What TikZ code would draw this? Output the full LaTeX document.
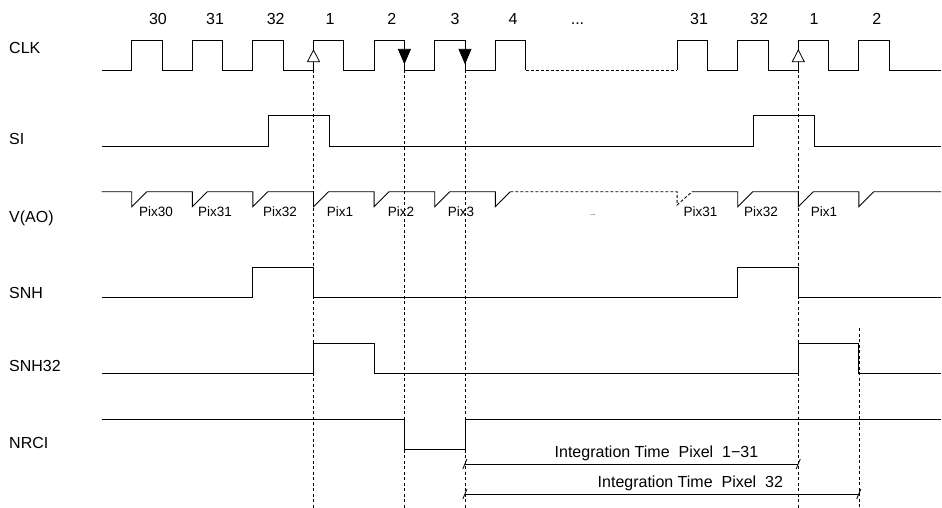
\documentclass[tikz,border=0pt]{standalone}
\usepackage{fontspec}
\setmainfont{Liberation Sans}
\begin{document}
\begin{tikzpicture}[x=1pt,y=-1pt,
  sig/.style={line width=0.9pt, line join=miter},
  dsig/.style={line width=0.9pt, dash pattern=on 3pt off 2pt},
  guide/.style={line width=0.8pt, dash pattern=on 3pt off 2.5pt},
  dim/.style={line width=0.9pt},
  lbl/.style={font=\fontsize{16}{19}\selectfont, inner sep=0pt, anchor=base west},
  num/.style={font=\fontsize{16}{19}\selectfont, inner sep=0pt, anchor=base},
  pix/.style={font=\fontsize{13.5}{16}\selectfont, inner sep=0pt, anchor=base},
  tinydots/.style={font=\fontsize{7}{8}\selectfont, inner sep=0pt, anchor=base},
  opentri/.style={draw, fill=white, line width=0.8pt},
  filltri/.style={draw, fill=black, line width=0.8pt}]
\useasboundingbox (0,0) rectangle (942,508);

% signal names
\node[lbl] (lclk) at (9,54) {CLK};
\node[lbl] (lsi) at (9,145) {SI};
\node[lbl] (lvao) at (9,222.5) {V(AO)};
\node[lbl] (lsnh) at (9,298.3) {SNH};
\node[lbl] (lsnh32) at (9,371.7) {SNH32};
\node[lbl] (lnrci) at (9,448.3) {NRCI};

% clock numbers
\node[num] (n30) at (158,25) {30};
\node[num] (n31) at (215,25) {31};
\node[num] (n32) at (275.7,25) {32};
\node[num] (n1) at (330,25) {1};
\node[num] (n2) at (391.7,25) {2};
\node[num] (n3) at (455,25) {3};
\node[num] (n4) at (513,25) {4};
\node[num] (ndots) at (577.5,25) {...};
\node[num] (m31) at (699,25) {31};
\node[num] (m32) at (759,25) {32};
\node[num] (m1) at (814,25) {1};
\node[num] (m2) at (876.7,25) {2};

% guide coordinates
\coordinate (gA) at (313.5,70);  \coordinate (gAb) at (313.5,508);
\coordinate (gB) at (404.4,70);  \coordinate (gBb) at (404.4,508);
\coordinate (gC) at (465.0,70);  \coordinate (gCb) at (465.0,508);
\coordinate (gD) at (798.3,70);  \coordinate (gDb) at (798.3,508);
\coordinate (gE) at (858.9,328); \coordinate (gEb) at (858.9,508);

\draw[guide] (gA) -- (gAb);
\draw[guide] (gB) -- (gBb);
\draw[guide] (gC) -- (gCb);
\draw[guide] (gD) -- (gDb);
\draw[guide] (gE) -- (gEb);

% CLK
\draw[sig] (101.7,70) foreach \r in {131.7,192.3,252.9,313.5,374.1,434.7,495.3}{ -- (\r,70) -- (\r,40) -- ({\r+30.3},40) -- ({\r+30.3},70) };
\draw[dsig] (525.6,70) -- (677.1,70);
\draw[sig] (677.1,70) foreach \r in {677.1,737.7,798.3,858.9}{ -- (\r,70) -- (\r,40) -- ({\r+30.3},40) -- ({\r+30.3},70) } -- (941,70);

% edge markers
\draw[opentri] (313.5,50) -- (307.5,61.7) -- (319.5,61.7) -- cycle;
\draw[opentri] (798.3,50) -- (792.3,61.7) -- (804.3,61.7) -- cycle;
\draw[filltri] (398.4,49.3) -- (410.4,49.3) -- (404.4,63.3) -- cycle;
\draw[filltri] (459.0,49.3) -- (471.0,49.3) -- (465.0,63.3) -- cycle;

% SI
\draw[sig] (101.7,146) -- (268.3,146) -- (268.3,115.7) -- (329,115.7) -- (329,146) -- (753.3,146) -- (753.3,115.7) -- (814,115.7) -- (814,146) -- (941,146);

% V(AO)
\draw[sig] (101.7,191.7) foreach \r in {131.7,192.3,252.9,313.5,374.1,434.7,495.3}{ -- (\r,191.7) -- (\r,206.7) -- ({\r+15},191.7) };
\draw[dsig] (510.3,191.7) -- (677.1,191.7) -- (677.1,205) -- (692.1,191.7);
\draw[sig] (692.1,191.7) foreach \r in {737.7,798.3,858.9}{ -- (\r,191.7) -- (\r,206.7) -- ({\r+15},191.7) } -- (941,191.7);

\node[pix] (p30) at (156,216) {Pix30};
\node[pix] (p31) at (215,216) {Pix31};
\node[pix] (p32) at (280,216) {Pix32};
\node[pix] (p1) at (340,216) {Pix1};
\node[pix] (p2) at (401,216) {Pix2};
\node[pix] (p3) at (461,216) {Pix3};
\node[tinydots] (pdots) at (593,215) {...};
\node[pix] (q31) at (700.5,216) {Pix31};
\node[pix] (q32) at (761,216) {Pix32};
\node[pix] (q1) at (824,216) {Pix1};

% SNH
\draw[sig] (101.7,297.3) -- (252.9,297.3) -- (252.9,267.3) -- (313.5,267.3) -- (313.5,297.3) -- (737.7,297.3) -- (737.7,267.3) -- (798.3,267.3) -- (798.3,297.3) -- (941,297.3);

% SNH32
\draw[sig] (101.7,373.3) -- (313.5,373.3) -- (313.5,343.3) -- (374.1,343.3) -- (374.1,373.3) -- (798.3,373.3) -- (798.3,343.3) -- (858.9,343.3) -- (858.9,373.3) -- (941,373.3);

% NRCI
\draw[sig] (101.7,419) -- (404.4,419) -- (404.4,449) -- (465,449) -- (465,419) -- (941,419);

% integration times
\coordinate (i1s) at (465,464);  \coordinate (i1e) at (798.3,464);
\coordinate (i2s) at (465,494);  \coordinate (i2e) at (858.9,494);
\draw[dim] (i1s) -- (i1e);
\draw[dim] (i2s) -- (i2e);
\foreach \c in {i1s,i1e,i2s,i2e}{
  \draw[line width=0.8pt] ([shift={(-2.2,5)}]\c) -- ([shift={(2,-5)}]\c);
}
\node[lbl] (t1) at (554.5,457.3) {Integration Time\ \ Pixel\ \ 1−31};
\node[lbl] (t2) at (597.5,487.7) {Integration Time\ \ Pixel\ \ 32};
\end{tikzpicture}
\end{document}
